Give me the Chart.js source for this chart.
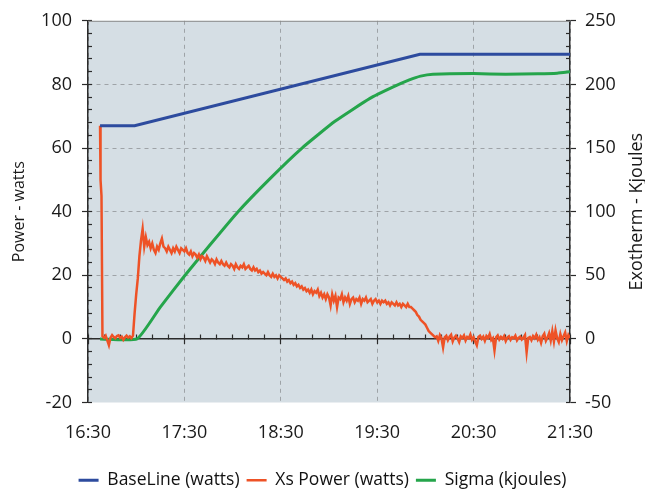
<!DOCTYPE html>
<html><head><meta charset="utf-8">
<script src="https://cdn.jsdelivr.net/npm/chart.js@4.4.1/dist/chart.umd.min.js"></script>
<style>html,body{margin:0;padding:0;background:#fff;}#wrap{width:645px;height:491px;position:relative;}</style>
</head><body><div id="wrap"><canvas id="c" width="645" height="491"></canvas></div>
<script>
// x values are minutes after 16:30
const timeLabels = ['16:30', '17:30', '18:30', '19:30', '20:30', '21:30'];
const powerTicks = [-20, 0, 20, 40, 60, 80, 100];
const exothermTicks = [-50, 0, 50, 100, 150, 200, 250];

const baselineMin = [7.5, 29, 206.6, 300];
const baselineWatts = [67, 67, 89.5, 89.5];

const sigmaMin = [7.5, 30.5, 45, 60.4, 76, 93.4, 113.3, 133.2, 153.7, 175.5, 190, 200, 207, 214.7, 240, 260, 280, 292, 300];
const sigmaKJ = [0, 0, 25, 50, 74, 100, 126, 150, 171, 189, 198, 203.5, 206.5, 208, 208.5, 208, 208.3, 208.8, 210];

const xsLeadMin = [7.5, 7.8, 8.4];
const xsLeadWatts = [67, 50, 45];
const xsStartMin = 9; // then one reading per minute
const xsWatts = [
  0.8, 0.3, 1.0, -0.5, -2.0, 0.4, 1.2, 0.6, 0.2, 0.9, 1.1, 0.3, 0.7, -0.3, 0.5, 1.0, 0.4, 0.8, 0.2, 1.0,
  8, 14, 19, 26, 31, 34.6, 29, 32, 29.5, 30.5, 28.5, 30,
  28, 27, 29, 28, 30, 31.5, 29, 28.5, 27.5, 29, 28, 27, 28.5, 27.5, 29, 28, 27, 28.5, 28, 27.5,
  28.5, 27, 26.5, 27.5, 26, 27, 26.5, 25.5, 26.5, 25, 26, 25.5, 24.5, 26, 25, 24, 25, 24.5, 23.5, 25,
  24, 23.5, 24.5, 23.5, 23, 24, 23, 22.5, 23.5, 23, 22, 23.5, 22.5, 22, 23, 22.5, 23.5, 22, 22.5, 23,
  22, 21.5, 22.5, 21.5, 22, 21, 21.5, 20.5, 21, 20.5, 20, 21, 20, 19.5, 20.5, 19.5, 20, 19, 20, 19.5,
  19, 18.5, 19, 18, 18.5, 17.5, 18, 17, 17.5, 16.5, 17, 16, 16.5, 15.5, 16, 15, 15.5, 14.5, 15.5, 14,
  15, 14.5, 15.5, 13.5, 14.5, 13, 14, 12.5, 14, 13, 10.5, 14, 12, 13.5, 10, 13, 12.5, 14, 11.5, 13,
  12, 13.5, 11, 12.5, 13, 11.5, 12.5, 12, 13, 11, 12.5, 12, 13, 11.5, 12, 12.5, 11, 12, 12.5, 11.5,
  12, 11, 12, 11.5, 12, 11, 11.5, 10.5, 11.5, 11, 10.5, 11.5, 10.5, 11, 10, 11, 10.5, 10, 11, 10,
  10, 9.5, 9, 8.5, 7.5, 7, 6, 5.5, 5, 4.5, 3.5, 2.5, 2, 1.5, 1, 0.5,
  0.8, -0.6, 1.2, 0.2, -2.7, 0.5, 1.0, -0.4, 0.7, 1.3,
  -0.8, 0.4, 1.0, 0.1, -1.0, 0.8, 0.3, 1.1, -0.5, 0.6,
  0.2, 1.4, -0.3, 0.5, -0.8, -2.0, 0.6, 1.0, 0.0, 0.7,
  -0.6, 0.9, 0.3, 1.5, -0.4, 0.2, -3.6, 0.5, 1.1, -0.2,
  0.6, 0.0, 0.9, -0.7, 0.4, 0.8, -0.3, 0.5, 0.2, 1.0,
  -0.5, 0.3, 0.7, -0.2, 0.4, 1.2, -4.2, 0.3, 0.6, -0.4,
  0.9, 0.2, 1.3, -0.3, 0.5, -1.2, 0.8, 1.6, -0.6, 0.4,
  1.8, -0.5, 2.4, -0.8, 2.7, 0.2, -1.0, 1.5, -0.4, 0.8,
  2.0, -0.7, 1.2, 0.3
];

const FONT = '"Open Sans", "Noto Sans", sans-serif';
const DARK = '#2b2b2b';
const GRID = '#9ea3a7';

const pts = (xs, ys) => xs.map((x, i) => ({x: x, y: ys[i]}));
const xsPoints = pts(xsLeadMin, xsLeadWatts).concat(xsWatts.map((v, i) => ({x: xsStartMin + i, y: v})));

const plotDeco = {
  id: 'plotDeco',
  beforeDraw(chart) {
    const {ctx, chartArea: a} = chart;
    ctx.save();
    ctx.fillStyle = '#d5dee4';
    ctx.fillRect(a.left, a.top, a.right - a.left, a.bottom - a.top);
    ctx.restore();
  },
  beforeDatasetsDraw(chart) {
    const {ctx, chartArea: a} = chart;
    ctx.save();
    ctx.strokeStyle = '#8a8a8a';
    ctx.lineWidth = 1;
    ctx.beginPath();
    ctx.moveTo(a.left, a.top + 0.5);
    ctx.lineTo(a.right, a.top + 0.5);
    ctx.stroke();
    ctx.restore();
  },
  afterDraw(chart) {
    const {ctx, chartArea: a} = chart;
    const s = chart.scales.y2;
    ctx.save();
    ctx.translate(s.right - 8, (a.top + a.bottom) / 2);
    ctx.rotate(-Math.PI / 2);
    ctx.font = '18px ' + FONT;
    ctx.fillStyle = '#1a1a1a';
    ctx.textAlign = 'center';
    ctx.textBaseline = 'middle';
    ctx.fillText('Exotherm - Kjoules', 0, 0);
    ctx.restore();
  }
};

new Chart(document.getElementById('c'), {
  type: 'line',
  data: {
    datasets: [
      {label: 'BaseLine (watts)', data: pts(baselineMin, baselineWatts), borderColor: '#2d4b9e', backgroundColor: '#2d4b9e', borderWidth: 3, pointRadius: 0, yAxisID: 'y', xAxisID: 'x'},
      {label: 'Xs Power (watts)', data: xsPoints, borderColor: '#ee5226', backgroundColor: '#ee5226', borderWidth: 2.5, pointRadius: 0, yAxisID: 'y', xAxisID: 'x'},
      {label: 'Sigma (kjoules)', data: pts(sigmaMin, sigmaKJ), borderColor: '#25a54b', backgroundColor: '#25a54b', borderWidth: 3, pointRadius: 0, tension: 0.15, yAxisID: 'y2', xAxisID: 'x'}
    ]
  },
  options: {
    responsive: false,
    animation: false,
    devicePixelRatio: 1,
    layout: {padding: {top: 19, bottom: -8, left: 0, right: 0}},
    plugins: {
      tooltip: {enabled: false},
      legend: {
        position: 'bottom',
        labels: {usePointStyle: true, pointStyle: 'line', pointStyleWidth: 20, padding: 7, color: '#111', font: {family: FONT, size: 17.5}}
      }
    },
    scales: {
      x: {
        type: 'linear', min: 0, max: 300, position: 'bottom',
        afterFit: s => { s.height = 62; },
        ticks: {stepSize: 60, padding: 20, color: '#1a1a1a', font: {family: FONT, size: 18},
          callback: (v) => timeLabels[Math.round(v / 60)]},
        grid: {color: GRID, lineWidth: 1, drawTicks: false},
        border: {display: false, dash: [4, 4]}
      },
      xMinor: {
        type: 'linear', axis: 'x', min: 0, max: 300, position: {y: 0},
        ticks: {display: false, stepSize: 10, autoSkip: false},
        grid: {drawOnChartArea: false, drawTicks: true, tickLength: -5, tickColor: DARK, tickWidth: 1.2},
        border: {display: true, color: DARK, width: 1.5}
      },
      xMajor: {
        type: 'linear', axis: 'x', min: 0, max: 300, position: {y: 0},
        ticks: {display: false, stepSize: 60, autoSkip: false},
        grid: {drawOnChartArea: false, drawTicks: true, tickLength: 5, tickColor: DARK, tickWidth: 1.2},
        border: {display: false}
      },
      y: {
        type: 'linear', position: 'left', min: -20, max: 100,
        afterFit: s => { s.width = 88; },
        afterBuildTicks: s => { s.ticks = powerTicks.map(v => ({value: v})); },
        ticks: {padding: 10, color: '#1a1a1a', font: {family: FONT, size: 18}},
        grid: {color: c => (c.tick && (c.tick.value === -20 || c.tick.value === 100 || c.tick.value === 0)) ? 'rgba(0,0,0,0)' : GRID,
          lineWidth: 1, drawTicks: true, tickLength: 6, tickColor: DARK, tickWidth: 1.2},
        border: {display: true, color: DARK, width: 1.5, dash: [4, 4]},
        title: {display: true, text: 'Power - watts', color: '#1a1a1a', font: {family: FONT, size: 16}, padding: {top: 10, bottom: 0}}
      },
      yMinor: {
        type: 'linear', axis: 'y', min: -20, max: 100, position: {x: 0},
        ticks: {display: false, stepSize: 4, autoSkip: false},
        grid: {drawOnChartArea: false, drawTicks: true, tickLength: -4, tickColor: DARK, tickWidth: 1.2},
        border: {display: false}
      },
      y2: {
        type: 'linear', position: 'right', min: -50, max: 250,
        afterFit: s => { s.width = 75; },
        afterBuildTicks: s => { s.ticks = exothermTicks.map(v => ({value: v})); },
        ticks: {padding: 9, color: '#1a1a1a', font: {family: FONT, size: 18}},
        grid: {drawOnChartArea: false, drawTicks: true, tickLength: 6, tickColor: DARK, tickWidth: 1.2},
        border: {display: true, color: DARK, width: 1.5}
      },
      y2Minor: {
        type: 'linear', axis: 'y', min: -50, max: 250, position: {x: 300},
        ticks: {display: false, stepSize: 10, autoSkip: false},
        grid: {drawOnChartArea: false, drawTicks: true, tickLength: 4, tickColor: DARK, tickWidth: 1.2},
        border: {display: false}
      }
    }
  },
  plugins: [plotDeco]
});
</script></body></html>
